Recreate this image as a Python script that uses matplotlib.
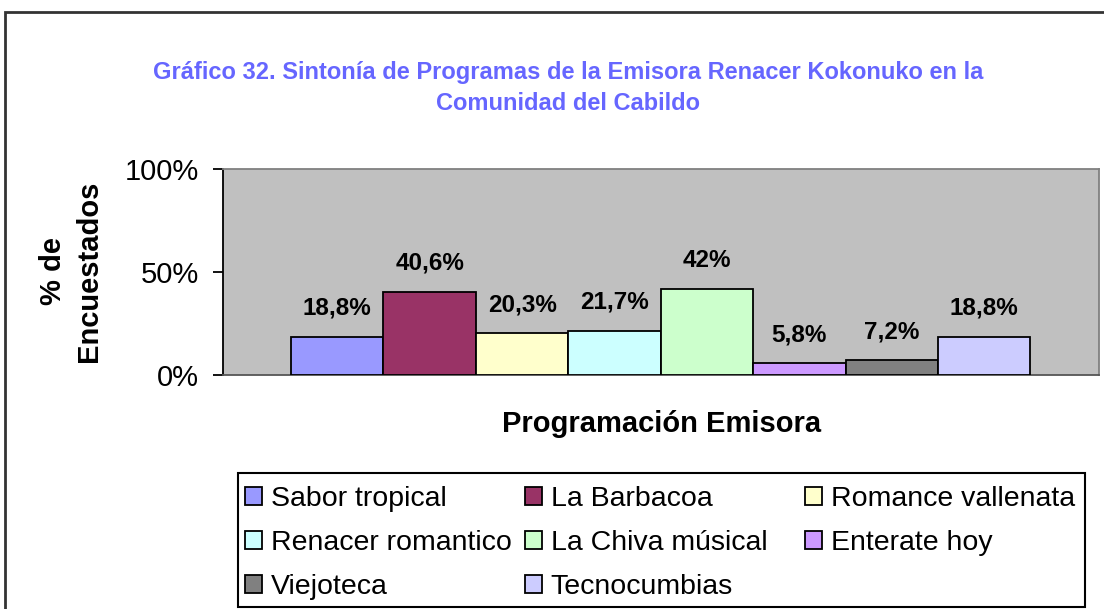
import matplotlib
matplotlib.use("Agg")
import matplotlib.pyplot as plt
from matplotlib.patches import Patch, Rectangle

programs = ["Sabor tropical", "La Barbacoa", "Romance vallenata",
            "Renacer romantico", "La Chiva músical", "Enterate hoy",
            "Viejoteca", "Tecnocumbias"]
values = [18.8, 40.6, 20.3, 21.7, 42.0, 5.8, 7.2, 18.8]
value_labels = ["18,8%", "40,6%", "20,3%", "21,7%", "42%", "5,8%", "7,2%", "18,8%"]
colors = ["#9999FF", "#993366", "#FFFFCC", "#CCFFFF", "#CCFFCC", "#CC99FF",
          "#808080", "#CCCCFF"]
yticks = [0, 50, 100]
ytick_labels = ["0%", "50%", "100%"]

plt.rcParams['font.family'] = ['Liberation Sans', 'DejaVu Sans']

W, H = 1104, 609
fig = plt.figure(figsize=(W / 100, H / 100), dpi=100)
fig.patch.set_facecolor("white")

# outer chart border (cropped at right and bottom)
fig.add_artist(Rectangle((5 / W, -0.05), 1.2, 1 - 12 / H + 0.05,
                         transform=fig.transFigure, fill=False,
                         edgecolor="#333333", linewidth=2))

ax = fig.add_axes([222.7 / W, 1 - 375.3 / H, (1098.7 - 222.7) / W,
                   (375.3 - 169.3) / H])
ax.set_facecolor("#C0C0C0")

n = len(values)
w = 1.0 / (n + 1.48)
xs = [(i - (n - 1) / 2) * w for i in range(n)]
bars = ax.bar(xs, values, width=w, color=colors, edgecolor="black",
              linewidth=1.3, zorder=3)
for b, lab in zip(bars, value_labels):
    ax.annotate(lab, (b.get_x() + b.get_width() / 2, b.get_height()),
                xytext=(0, 12), textcoords="offset points", ha="center",
                va="bottom", fontsize=17.5, fontweight="bold", color="black")

ax.set_xlim(-0.5, 0.5)
ax.set_ylim(0, 100)
ax.set_xticks([])
ax.set_yticks(yticks)
ax.set_yticklabels(ytick_labels, fontsize=21)
ax.tick_params(axis="y", direction="out", length=7, width=1.3, pad=10,
               colors="black")
for s in ["top", "right"]:
    ax.spines[s].set_color("#808080")
    ax.spines[s].set_linewidth(1.3)
ax.spines["bottom"].set_color("#555555")
ax.spines["bottom"].set_linewidth(1.3)
ax.spines["left"].set_color("black")
ax.spines["left"].set_linewidth(1.3)

fig.text(568 / W, 1 - 88 / H,
         "Gráfico 32. Sintonía de Programas de la Emisora Renacer Kokonuko en la\nComunidad del Cabildo",
         ha="center", va="center", fontsize=17, fontweight="bold",
         color="#6666FF", linespacing=1.45)

fig.text(71 / W, 1 - 271 / H, "% de\nEncuestados", rotation=90,
         ha="center", va="center", fontsize=21, fontweight="bold",
         multialignment="center", linespacing=1.35)

fig.text(662 / W, 1 - 424 / H, "Programación Emisora", ha="center",
         va="center", fontsize=21, fontweight="bold")

# legend: three equal-width columns inside one frame
handles = [Patch(facecolor=c, edgecolor="black", linewidth=1.3) for c in colors]
columns = [[0, 3, 6], [1, 4, 7], [2, 5]]
col_x = [245, 525, 805]
for cx, idx in zip(col_x, columns):
    lg = fig.legend([handles[i] for i in idx], [programs[i] for i in idx],
                    ncol=1, loc="upper left",
                    bbox_to_anchor=(cx / W, 1 - 486 / H),
                    fontsize=20.5, frameon=False,
                    handlelength=0.6, handleheight=0.6,
                    handletextpad=0.3, labelspacing=0.64,
                    borderpad=0, borderaxespad=0)
fig.add_artist(Rectangle((238 / W, 1 - 607 / H), (1085 - 238) / W,
                         (607 - 473) / H, transform=fig.transFigure,
                         fill=False, edgecolor="black", linewidth=1.5))

fig.savefig("out.png", dpi=100)
